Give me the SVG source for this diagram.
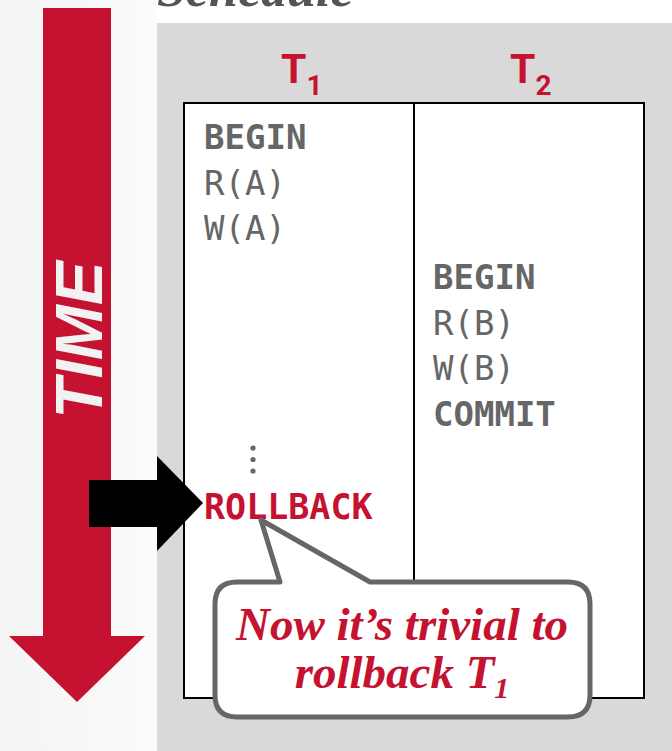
<svg xmlns="http://www.w3.org/2000/svg" width="672" height="751" viewBox="0 0 672 751">
<defs>
<linearGradient id="leftbg" x1="0" y1="0" x2="1" y2="0">
<stop offset="0" stop-color="#f4f4f4"/>
<stop offset="1" stop-color="#fbfbfb"/>
</linearGradient>
</defs>
<style>
.mono{font-family:"DejaVu Sans Mono","Liberation Mono",monospace;font-size:34px;fill:#666666}
.b{font-weight:bold}
.hdr{font-family:Roboto,"Liberation Sans",sans-serif;font-weight:bold;font-size:41px;fill:#c41230}
.sub{font-size:28px}
.callout{font-family:"Liberation Serif",serif;font-style:italic;font-weight:bold;font-size:47px;fill:#c41230}
.cell{fill:#ffffff;stroke:#000000;stroke-width:2}
</style>
<rect x="0" y="0" width="672" height="751" fill="#ffffff"/>
<rect x="0" y="0" width="157" height="751" fill="url(#leftbg)"/>
<rect x="157" y="23" width="515" height="728" fill="#d9d9d9"/>
<text x="157" y="6" font-family="Liberation Serif, serif" font-style="italic" font-weight="bold" font-size="52" fill="#555555">Schedule</text>

<g id="time-arrow">
<polygon points="43,8 111,8 111,636 145,636 77,702 9,636 43,636" fill="#c41230"/>
<text transform="translate(102,340) rotate(-90)" text-anchor="middle" font-family="Liberation Sans, sans-serif" font-weight="bold" font-style="italic" font-size="66" fill="#f2f2f2">TIME</text>
</g>

<g id="table">
<rect class="cell" x="184" y="103" width="460" height="595"/>
<line x1="414" y1="103" x2="414" y2="698" stroke="#000000" stroke-width="2"/>
</g>

<g id="t1-header">
<text class="hdr" x="281" y="83">T<tspan class="sub" dy="12">1</tspan></text>
</g>
<g id="t2-header">
<text class="hdr" x="510" y="83">T<tspan class="sub" dy="12">2</tspan></text>
</g>

<g id="t1-ops">
<text class="mono b" x="204" y="149">BEGIN</text>
<text class="mono" x="204" y="194.5">R(A)</text>
<text class="mono" x="204" y="240">W(A)</text>
<circle cx="253" cy="448" r="2.6" fill="#666666"/>
<circle cx="253" cy="459.5" r="2.6" fill="#666666"/>
<circle cx="253" cy="471" r="2.6" fill="#666666"/>
<text class="mono b" x="204" y="519" style="fill:#c41230;font-size:35px">ROLLBACK</text>
</g>

<g id="t2-ops">
<text class="mono b" x="433" y="289">BEGIN</text>
<text class="mono" x="433" y="334.5">R(B)</text>
<text class="mono" x="433" y="380">W(B)</text>
<text class="mono b" x="433" y="425.5">COMMIT</text>
</g>

<g id="connectors">
<polygon points="89,480 157,480 157,456 203,503 157,551 157,527 89,527" fill="#000000"/>
</g>

<g id="callout">
<path d="M 237,582 L 280,582 L 261,520 L 370,582 L 568,582 Q 590,582 590,604 L 590,695 Q 590,717 568,717 L 237,717 Q 215,717 215,695 L 215,604 Q 215,582 237,582 Z" fill="#ffffff" stroke="#666666" stroke-width="5" stroke-linejoin="round"/>
<text class="callout" x="402" y="640" text-anchor="middle">Now it’s trivial to</text>
<text class="callout" x="402" y="688" text-anchor="middle">rollback T<tspan font-size="30" dy="10">1</tspan></text>
</g>
</svg>
